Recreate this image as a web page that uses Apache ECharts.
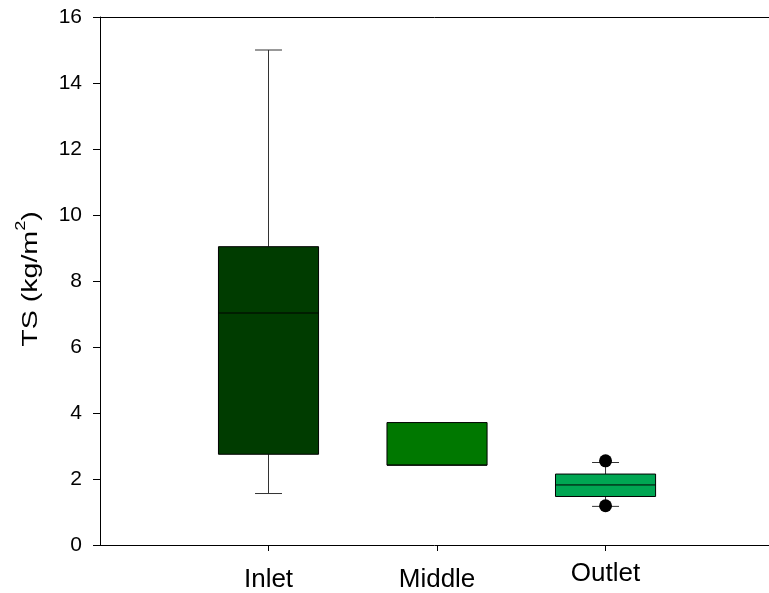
<!DOCTYPE html>
<html>
<head>
<meta charset="utf-8">
<script src="https://cdn.jsdelivr.net/npm/echarts@6/dist/echarts.min.js"></script>
<style>html,body{margin:0;padding:0;background:#fff;}#c{width:769px;height:593px;}</style>
</head>
<body>
<div id="c"></div>
<script>
const categories = ['Inlet', 'Middle', 'Outlet'];
const positions = [1, 2, 3];
const whiskerLow = [1.56, 2.42, 1.17];
const q1 = [2.75, 2.42, 1.47];
const median = [7.03, 2.42, 1.82];
const q3 = [9.04, 3.71, 2.15];
const whiskerHigh = [15.0, 3.71, 2.50];
const boxColors = ['#003c00', '#007800', '#00a653'];
const outliers = [[3, 2.55], [3, 1.19]];
const yTicks = [0, 2, 4, 6, 8, 10, 12, 14, 16];
const yTitle = ['TS (kg/m', '2', ')'];

const boxData = categories.map((c, i) => [positions[i], whiskerLow[i], q1[i], median[i], q3[i], whiskerHigh[i], i]);

function renderBox(params, api) {
  const x = api.value(0);
  const idx = api.value(6);
  const halfW = 0.297, capW = 0.08;
  const pLow = api.coord([x, api.value(1)]);
  const pQ1 = api.coord([x, api.value(2)]);
  const pMed = api.coord([x, api.value(3)]);
  const pQ3 = api.coord([x, api.value(4)]);
  const pHigh = api.coord([x, api.value(5)]);
  const left = api.coord([x - halfW, 0])[0];
  const right = api.coord([x + halfW, 0])[0];
  const capL = api.coord([x - capW, 0])[0];
  const capR = api.coord([x + capW, 0])[0];
  const cx = pLow[0];
  const children = [];
  const wStyle = { stroke: '#333', lineWidth: 1 };
  if (api.value(5) > api.value(4)) {
    children.push({ type: 'line', shape: { x1: cx, y1: pQ3[1], x2: cx, y2: pHigh[1] }, style: wStyle });
    children.push({ type: 'line', shape: { x1: capL, y1: pHigh[1], x2: capR, y2: pHigh[1] }, style: wStyle });
  }
  if (api.value(1) < api.value(2)) {
    children.push({ type: 'line', shape: { x1: cx, y1: pQ1[1], x2: cx, y2: pLow[1] }, style: wStyle });
    children.push({ type: 'line', shape: { x1: capL, y1: pLow[1], x2: capR, y2: pLow[1] }, style: wStyle });
  }
  children.push({ type: 'rect', shape: { x: left, y: pQ3[1], width: right - left, height: pQ1[1] - pQ3[1] },
    style: { fill: boxColors[idx], stroke: '#000', lineWidth: 1 } });
  children.push({ type: 'line', shape: { x1: left, y1: pMed[1], x2: right, y2: pMed[1] }, style: { stroke: '#000', lineWidth: 1 } });
  return { type: 'group', children: children };
}

const FONT = 'Liberation Sans, Arial, sans-serif';
const chart = echarts.init(document.getElementById('c'), null, { renderer: 'canvas' });
chart.setOption({
  animation: false,
  backgroundColor: '#fff',
  grid: { left: 100, right: 0, top: 17, bottom: 46, containLabel: false },
  graphic: [{
    type: 'text',
    x: 28, y: 279,
    rotation: Math.PI / 2,
    scaleX: 1.3,
    style: {
      text: '{a|' + yTitle[0] + '}{s|' + yTitle[1] + '}{a|' + yTitle[2] + '}',
      align: 'center', verticalAlign: 'middle',
      rich: {
        a: { fontFamily: FONT, fontSize: 22, fill: '#000', lineHeight: 28, verticalAlign: 'bottom' },
        s: { fontFamily: FONT, fontSize: 14, fill: '#000', lineHeight: 28, verticalAlign: 'top' }
      }
    }
  }],
  xAxis: [{
    type: 'value', min: 0, max: 3.97,
    axisLine: { show: true, onZero: false, lineStyle: { color: '#000', width: 1 } },
    axisTick: { show: true, length: 6, lineStyle: { color: '#000' }, customValues: positions },
    axisLabel: {
      customValues: positions,
      margin: 16,
      formatter: function (v) {
        const i = positions.indexOf(v);
        if (i < 0) return '';
        return i === 2 ? '{o|' + categories[i] + '}' : '{n|' + categories[i] + '}';
      },
      rich: {
        n: { fontFamily: FONT, fontSize: 26, color: '#000', padding: [6, 0, 0, 0] },
        o: { fontFamily: FONT, fontSize: 26, color: '#000', padding: [0, 0, 6, 0] }
      }
    },
    splitLine: { show: false }
  }, {
    type: 'value', min: 0, max: 3.97, position: 'top',
    axisLine: { show: true, onZero: false, lineStyle: { color: '#000', width: 1 } },
    axisTick: { show: false }, axisLabel: { show: false }, splitLine: { show: false }
  }],
  yAxis: {
    type: 'value', min: 0, max: 16, interval: 2,
    axisLine: { show: true, onZero: false, lineStyle: { color: '#000', width: 1 } },
    axisTick: { show: true, length: 7, lineStyle: { color: '#000' } },
    axisLabel: { fontFamily: FONT, fontSize: 21, color: '#000', margin: 18,
      formatter: function (v) { return yTicks.indexOf(v) >= 0 ? String(v) : ''; } },
    splitLine: { show: false }
  },
  series: [{
    type: 'custom',
    renderItem: renderBox,
    data: boxData,
    encode: { x: 0, y: [1, 2, 3, 4, 5] },
    clip: false
  }, {
    type: 'scatter',
    data: outliers,
    symbol: 'circle',
    symbolSize: 13,
    itemStyle: { color: '#000', opacity: 1 }
  }]
});
</script>
</body>
</html>
